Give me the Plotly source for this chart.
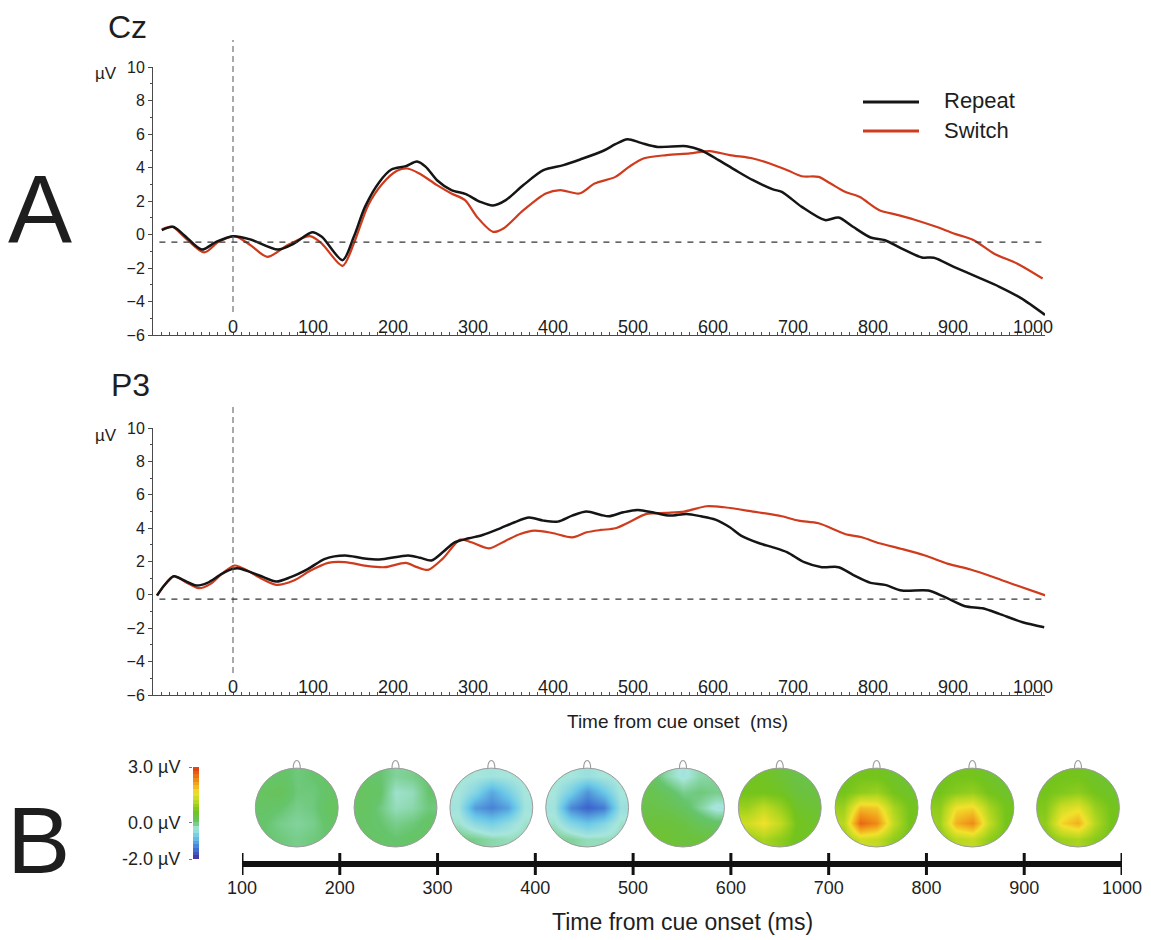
import numpy as np
import plotly.graph_objects as go

W, H = 1151, 940


def px(x):
    return x / W


def py(y):
    return 1 - y / H


# ---------------- DATA ----------------
series_names = ["Repeat", "Switch"]

# Cz (A, upper panel)
cz_repeat_t = [-89, -75, -61, -39, -21, 0, 22, 56, 76, 99, 111, 137, 151, 165, 183, 198, 216, 230, 241, 255,
               273, 291, 309, 325, 341, 363, 388, 413, 434, 463, 478, 493, 510, 531, 567, 585, 607, 628, 650,
               675, 686, 711, 740, 757, 775, 797, 815, 836, 861, 876, 901, 930, 958, 985, 1015]
cz_repeat = [0.26, 0.46, -0.04, -0.9, -0.44, -0.1, -0.3, -0.9, -0.54, 0.14, -0.14, -1.53, -0.14, 1.65, 3.14,
             3.88, 4.08, 4.36, 4.04, 3.24, 2.65, 2.41, 1.95, 1.73, 2.05, 2.95, 3.84, 4.14, 4.48, 5.0, 5.39,
             5.69, 5.47, 5.23, 5.27, 5.03, 4.44, 3.84, 3.24, 2.69, 2.55, 1.65, 0.86, 1.01, 0.46, -0.18, -0.34,
             -0.84, -1.37, -1.39, -1.93, -2.53, -3.12, -3.8, -4.8]
cz_switch_t = [-89, -76, -61, -36, -18, 2, 22, 43, 68, 96, 111, 137, 151, 169, 187, 205, 218, 233, 255, 273,
               290, 305, 325, 338, 363, 391, 409, 433, 452, 478, 495, 513, 542, 571, 596, 621, 650, 671, 693,
               711, 732, 747, 765, 783, 808, 829, 851, 879, 901, 926, 951, 980, 1012]
cz_switch = [0.3, 0.46, -0.14, -1.07, -0.44, -0.1, -0.64, -1.33, -0.64, -0.1, -0.54, -1.87, -0.54, 1.75, 3.04,
             3.8, 3.94, 3.64, 2.95, 2.45, 2.05, 1.05, 0.16, 0.36, 1.45, 2.45, 2.65, 2.45, 3.04, 3.44, 4.04,
             4.54, 4.74, 4.84, 4.98, 4.74, 4.54, 4.24, 3.84, 3.48, 3.44, 3.04, 2.55, 2.25, 1.45, 1.19, 0.9,
             0.46, 0.06, -0.34, -1.13, -1.73, -2.63]
cz_baseline = -0.45

# P3 (A, lower panel)
p3_repeat_t = [-95, -86, -74, -61, -46, -32, -14, 0, 8, 33, 54, 72, 94, 115, 140, 162, 183, 219, 234, 248, 262,
               277, 295, 312, 334, 352, 370, 388, 406, 424, 442, 460, 470, 488, 506, 528, 546, 567, 585, 603,
               621, 635, 657, 675, 693, 714, 736, 757, 775, 797, 815, 836, 869, 890, 915, 937, 958, 987, 1014]
p3_repeat = [-0.04, 0.56, 1.12, 0.86, 0.56, 0.72, 1.26, 1.56, 1.58, 1.16, 0.8, 1.06, 1.56, 2.16, 2.36, 2.2,
             2.12, 2.36, 2.22, 2.06, 2.55, 3.15, 3.39, 3.59, 3.99, 4.35, 4.63, 4.45, 4.39, 4.75, 4.99, 4.79,
             4.71, 4.95, 5.09, 4.91, 4.75, 4.85, 4.71, 4.51, 4.05, 3.55, 3.11, 2.85, 2.55, 1.96, 1.66, 1.66,
             1.2, 0.72, 0.6, 0.26, 0.26, -0.14, -0.68, -0.8, -1.14, -1.64, -1.94]
p3_switch_t = [-95, -86, -74, -59, -43, -28, -14, 2, 18, 36, 54, 76, 97, 119, 140, 169, 190, 216, 230, 244,
               262, 284, 298, 320, 341, 359, 377, 399, 424, 442, 460, 478, 495, 517, 542, 564, 592, 614, 650,
               686, 707, 732, 765, 786, 808, 836, 865, 894, 922, 951, 980, 1016]
p3_switch = [-0.04, 0.56, 1.12, 0.76, 0.4, 0.66, 1.26, 1.76, 1.46, 0.96, 0.6, 0.86, 1.46, 1.92, 1.96, 1.72,
             1.66, 1.92, 1.66, 1.5, 2.16, 3.31, 3.15, 2.79, 3.25, 3.65, 3.85, 3.71, 3.45, 3.75, 3.89, 3.99,
             4.35, 4.85, 4.91, 4.99, 5.31, 5.25, 4.99, 4.71, 4.45, 4.29, 3.65, 3.45, 3.09, 2.75, 2.36, 1.86,
             1.52, 1.06, 0.56, -0.04]
p3_baseline = -0.25

cue_onset = 0
erp_xticks = [0, 100, 200, 300, 400, 500, 600, 700, 800, 900, 1000]
erp_yticks = [-6, -4, -2, 0, 2, 4, 6, 8, 10]

# B: topographic maps (5x5 grid per map, rows front->back, cols left->right, in µV)
timeline_ticks = [100, 200, 300, 400, 500, 600, 700, 800, 900, 1000]
topo_centers = [156, 257, 355, 453, 551, 650, 749, 847, 955]
topo_grids = [
    [[0.0, 0.05, -0.05, 0.0, 0.05], [0.1, 0.15, -0.05, -0.05, 0.05], [0.05, 0.0, -0.1, -0.05, 0.1],
     [0.0, -0.1, -0.15, -0.1, 0.05], [0.0, -0.05, -0.1, -0.05, 0.0]],
    [[0.05, 0.0, -0.15, -0.1, 0.0], [0.1, 0.05, -0.3, -0.25, 0.0], [0.1, -0.05, -0.25, -0.2, -0.05],
     [0.05, 0.0, -0.1, -0.05, 0.05], [0.05, 0.05, 0.0, 0.05, 0.05]],
    [[-0.3, -0.35, -0.4, -0.35, -0.3], [-0.35, -0.6, -1.05, -0.7, -0.35], [-0.4, -1.15, -1.35, -1.1, -0.4],
     [-0.3, -0.55, -0.7, -0.5, -0.3], [-0.05, -0.1, -0.2, -0.25, -0.25]],
    [[-0.3, -0.35, -0.45, -0.35, -0.3], [-0.35, -0.7, -1.2, -0.8, -0.35], [-0.4, -1.3, -1.6, -1.4, -0.45],
     [-0.3, -0.6, -0.8, -0.6, -0.3], [-0.1, -0.15, -0.25, -0.25, -0.25]],
    [[0.1, -0.2, -0.4, -0.2, -0.15], [0.25, 0.1, -0.1, -0.05, -0.1], [0.3, 0.25, 0.1, -0.15, -0.4],
     [0.4, 0.4, 0.35, 0.15, 0.05], [0.45, 0.45, 0.4, 0.4, 0.35]],
    [[0.55, 0.55, 0.45, 0.3, 0.25], [0.6, 0.6, 0.55, 0.4, 0.35], [0.9, 1.2, 0.9, 0.5, 0.45],
     [1.3, 1.6, 1.2, 0.6, 0.5], [0.8, 1.0, 0.8, 0.55, 0.55]],
    [[0.55, 0.6, 0.6, 0.5, 0.45], [0.6, 0.8, 0.9, 0.6, 0.5], [0.9, 1.9, 1.8, 1.0, 0.6],
     [1.1, 2.6, 2.3, 1.2, 0.6], [0.8, 1.3, 1.2, 0.8, 0.6]],
    [[0.55, 0.6, 0.6, 0.5, 0.45], [0.6, 0.75, 0.85, 0.6, 0.5], [0.8, 1.6, 1.7, 1.0, 0.6],
     [0.9, 2.0, 2.3, 1.2, 0.6], [0.7, 1.1, 1.2, 0.8, 0.6]],
    [[0.55, 0.6, 0.6, 0.5, 0.45], [0.6, 0.7, 0.8, 0.6, 0.5], [0.7, 1.3, 1.5, 0.9, 0.6],
     [0.8, 1.7, 2.0, 1.1, 0.6], [0.65, 0.9, 1.0, 0.75, 0.6]],
]
cbar_min, cbar_max = -2.0, 3.0
cbar_ticks = [3.0, 0.0, -2.0]
cbar_ticktext = ["3.0 µV", "0.0 µV", "-2.0 µV"]

# ---------------- STYLE ----------------
FONT = "Liberation Sans, Arial, sans-serif"
TXT = "#1e1e1e"
BLACK = "#151515"
RED = "#cf3b1c"
AX = "#4a4a4a"
colorscale = [
    [0.00, "#4b2d9b"], [0.10, "#3f6fd0"], [0.24, "#6ac8e8"], [0.33, "#a8e6dc"],
    [0.40, "#66c46c"], [0.48, "#6cc23c"], [0.52, "#74c41c"], [0.62, "#b8d820"],
    [0.72, "#f2e22c"], [0.85, "#f09018"], [1.00, "#e03a12"],
]

fig = go.Figure()

# ERP waveforms
panels = [
    ("x", "y", cz_repeat_t, cz_repeat, cz_switch_t, cz_switch),
    ("x2", "y2", p3_repeat_t, p3_repeat, p3_switch_t, p3_switch),
]
for xa, ya, rt, rv, st, sv in panels:
    fig.add_trace(go.Scatter(x=st, y=sv, mode="lines", name=series_names[1],
                             line=dict(color=RED, width=2.2, shape="spline", smoothing=0.8),
                             xaxis=xa, yaxis=ya, showlegend=False, hoverinfo="skip"))
    fig.add_trace(go.Scatter(x=rt, y=rv, mode="lines", name=series_names[0],
                             line=dict(color=BLACK, width=2.5, shape="spline", smoothing=0.8),
                             xaxis=xa, yaxis=ya, showlegend=False, hoverinfo="skip"))

# Topographic maps
rx = 42.4  # half-width of each head in ms of the timeline axis
shapes = []
for cx, grid in zip(topo_centers, topo_grids):
    n = len(grid)
    fig.add_trace(go.Heatmap(z=grid, x0=cx - rx + rx / n, dx=2 * rx / n, y0=-1 + 1 / n, dy=2 / n,
                             coloraxis="coloraxis", zsmooth="best", xaxis="x3", yaxis="y4",
                             hoverinfo="skip"))
    k = 0.5523
    x0, x1 = cx - rx - 1.5, cx + rx + 1.5
    ell = (f"M{cx + rx},0 C{cx + rx},{k} {cx + k * rx},1 {cx},1 "
           f"C{cx - k * rx},1 {cx - rx},{k} {cx - rx},0 "
           f"C{cx - rx},{-k} {cx - k * rx},-1 {cx},-1 "
           f"C{cx + k * rx},-1 {cx + rx},{-k} {cx + rx},0 Z")
    mask = f"M{x0},-1.04 L{x1},-1.04 L{x1},1.025 L{x0},1.025 Z " + ell
    shapes.append(dict(type="path", path=mask, xref="x3", yref="y4", fillcolor="white",
                       fillrule="evenodd", line=dict(width=0), layer="above"))
    shapes.append(dict(type="circle", x0=cx - rx, x1=cx + rx, y0=-1, y1=1, xref="x3", yref="y4",
                       line=dict(color="#9c9c9c", width=1), layer="above"))
    nose = f"M{cx - 3.6},-0.99 C{cx - 3.8},-1.26 {cx + 3.8},-1.26 {cx + 3.6},-0.99"
    shapes.append(dict(type="path", path=nose, xref="x3", yref="y4",
                       line=dict(color="#9c9c9c", width=1.1), layer="above"))

# Colour bar drawn as a narrow heatmap
levels = np.linspace(cbar_min + 0.1, cbar_max - 0.1, 25)
fig.add_trace(go.Heatmap(z=[[v] for v in levels], x=[0], y=levels, coloraxis="coloraxis",
                         xaxis="x5", yaxis="y5", hoverinfo="skip"))

# Timeline of B
fig.add_trace(go.Scatter(x=timeline_ticks, y=[0] * len(timeline_ticks), mode="lines",
                         line=dict(color="#111", width=6),
                         error_y=dict(type="data", array=[1] * len(timeline_ticks), symmetric=True,
                                      thickness=3, width=0, color="#111"),
                         xaxis="x3", yaxis="y3", showlegend=False, hoverinfo="skip"))

# Reference lines for ERP panels
for xa, ya, base, top_px, bot_px in [("x", "y", cz_baseline, 40, 312), ("x2", "y2", p3_baseline, 405, 673)]:
    shapes.append(dict(type="line", xref=xa, yref="paper", x0=cue_onset, x1=cue_onset,
                       y0=py(bot_px), y1=py(top_px), line=dict(color="#555", width=1, dash="6px,4px")))
    shapes.append(dict(type="line", xref=xa, yref=ya, x0=-92, x1=1015, y0=base, y1=base,
                       line=dict(color="#333", width=1.3, dash="6px,6px")))

# Legend (drawn in the top panel)
for i, (name, col) in enumerate(zip(series_names, [BLACK, RED])):
    yy = 102 + i * 29
    shapes.append(dict(type="line", xref="paper", yref="paper", x0=px(863), x1=px(919),
                       y0=py(yy), y1=py(yy), line=dict(color=col, width=3)))

annotations = []


def ann(text, x, y, size, xanchor="center", yanchor="middle"):
    annotations.append(dict(text=text, x=px(x), y=py(y), xref="paper", yref="paper", showarrow=False,
                            xanchor=xanchor, yanchor=yanchor, font=dict(family=FONT, size=size, color=TXT)))


for i, name in enumerate(series_names):
    ann(name, 942, 101 + i * 29, 22, xanchor="left")
ann("Cz", 128, 27, 32)
ann("P3", 130, 385, 32)
ann("A", 40, 208, 96)
ann("B", 38, 840, 95)
ann("µV", 119, 73, 17, xanchor="right")
ann("µV", 119, 435, 17, xanchor="right")
ann("Time from cue onset  (ms)", 677, 721, 19)
ann("Time from cue onset (ms)", 682, 922, 23)

erp_x = dict(range=[-100, 1015], showline=True, linecolor=AX, linewidth=1, ticks="inside", ticklen=3,
             tickcolor=AX, tickvals=erp_xticks, ticklabelposition="outside", ticklabelstandoff=-25,
             tickfont=dict(family=FONT, size=18, color=TXT), showgrid=False, zeroline=False,
             automargin=False,
             minor=dict(ticks="inside", ticklen=3, dtick=10, tick0=0, tickcolor=AX, showgrid=False))
erp_y = dict(range=[-6, 10], showline=True, linecolor=AX, linewidth=1, ticks="outside", ticklen=4,
             tickcolor=AX, tickvals=erp_yticks, tickfont=dict(family=FONT, size=16, color=TXT),
             showgrid=False, zeroline=False, automargin=False,
             minor=dict(ticks="outside", ticklen=2, dtick=1, tick0=0, tickcolor=AX, showgrid=False))

fig.update_layout(
    width=W, height=H, margin=dict(l=0, r=0, t=0, b=0, pad=0, autoexpand=False), autosize=False,
    paper_bgcolor="white", plot_bgcolor="rgba(0,0,0,0)", showlegend=False,
    font=dict(family=FONT, color=TXT),
    xaxis=dict(erp_x, domain=[px(153), px(1045)], anchor="y"),
    yaxis=dict(erp_y, domain=[py(335), py(67)], anchor="x"),
    xaxis2=dict(erp_x, domain=[px(153), px(1045)], anchor="y2"),
    yaxis2=dict(erp_y, domain=[py(695), py(428)], anchor="x2"),
    xaxis3=dict(domain=[px(242), px(1122)], range=[100, 1000], anchor="y3", showline=False,
                showgrid=False, zeroline=False, ticks="", tickvals=timeline_ticks, automargin=False,
                tickfont=dict(family=FONT, size=18, color=TXT)),
    yaxis3=dict(domain=[py(875), py(853)], range=[-1, 1], anchor="x3", visible=False, automargin=False),
    yaxis4=dict(domain=[py(848), py(758)], range=[1.0256, -1.2564], anchor="x3", visible=False,
                automargin=False),
    xaxis5=dict(domain=[px(193), px(199)], range=[-0.5, 0.5], anchor="y5", visible=False, automargin=False),
    yaxis5=dict(domain=[py(859), py(767)], range=[cbar_min, cbar_max], anchor="x5", side="left",
                showline=False, showgrid=False, zeroline=False, ticks="outside", ticklen=3,
                tickcolor="#777", tickvals=cbar_ticks, ticktext=cbar_ticktext, ticklabelstandoff=5,
                automargin=False, tickfont=dict(family=FONT, size=18, color=TXT)),
    coloraxis=dict(cmin=cbar_min, cmax=cbar_max, colorscale=colorscale, showscale=False),
    shapes=shapes, annotations=annotations,
)

fig.write_html(
    "out.html",
    post_script=("document.body.style.margin='0';document.body.style.padding='0';"
                 "document.documentElement.style.overflow='hidden';"),
)
